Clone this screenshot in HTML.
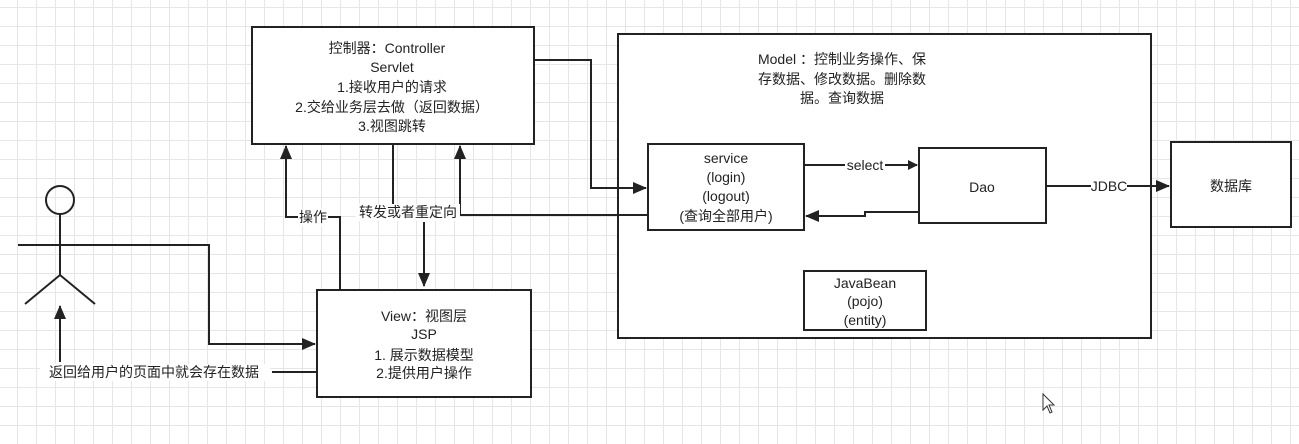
<!DOCTYPE html>
<html><head><meta charset="utf-8"><style>
html,body{margin:0;padding:0}
body{width:1299px;height:439px;overflow:hidden;background-color:#fff;
background-image:linear-gradient(#e6e6e6 1px,transparent 1px),linear-gradient(90deg,#e6e6e6 1px,transparent 1px);
background-size:19px 19px;background-position:-2px 7px;}
svg text{font-family:"Liberation Sans","Noto Sans CJK SC",sans-serif;font-size:14px;fill:#222;text-anchor:middle}
</style></head><body>
<svg width="1299" height="439" xmlns="http://www.w3.org/2000/svg">
<defs><marker id="a" markerWidth="10" markerHeight="10" refX="9" refY="5" orient="auto" markerUnits="userSpaceOnUse"><path d="M0,0 L10,5 L0,10z" fill="#222"/></marker>
<marker id="b" markerWidth="14" markerHeight="12" refX="13" refY="6" orient="auto" markerUnits="userSpaceOnUse"><path d="M0,0 L14,6 L0,12z" fill="#222"/></marker></defs>
<g fill="none" stroke="#222" stroke-width="2">
<rect x="252" y="27" width="282" height="117" fill="#fff"/>
<rect x="317" y="290" width="214" height="107" fill="#fff"/>
<rect x="618" y="34" width="533" height="304" fill="#fff"/>
<rect x="648" y="144" width="156" height="86" fill="#fff"/>
<rect x="919" y="148" width="127" height="75" fill="#fff"/>
<rect x="1171" y="142" width="120" height="85" fill="#fff"/>
<rect x="804" y="271" width="122" height="59" fill="#fff"/>
<circle cx="60" cy="200" r="14"/>
<path d="M60 214 V275 M18 245 H100 M25 304 L60 275 L95 304"/>
<path d="M100 245 H209 V344 H315" marker-end="url(#b)"/>
<path d="M60 362 V306" marker-end="url(#b)"/>
<path d="M272 372 H317"/>
<path d="M340 290 V217 H286 V146" marker-end="url(#b)"/>
<path d="M393 144 V204"/>
<path d="M424 222 V286" marker-end="url(#b)"/>
<path d="M648 215 H460 V146" marker-end="url(#b)"/>
<path d="M534 60 H591 V188 H646" marker-end="url(#b)"/>
<path d="M804 165 H917" marker-end="url(#a)"/>
<path d="M919 212 H865 V216 H806" marker-end="url(#b)"/>
<path d="M1046 186 H1169" marker-end="url(#b)"/>
</g>
<g>
<rect x="298" y="209" width="30" height="17" fill="#fff"/>
<rect x="356" y="204" width="104" height="17" fill="#fff"/>
<rect x="845" y="157" width="40" height="17" fill="#fff"/>
<rect x="1091" y="178" width="36" height="17" fill="#fff"/>
<rect x="40" y="364" width="230" height="17" fill="#fff"/>
<text x="387" y="53">控制器：Controller</text>
<text x="392" y="72">Servlet</text>
<text x="392" y="92">1.接收用户的请求</text>
<text x="392" y="112">2.交给业务层去做（返回数据）</text>
<text x="392" y="131">3.视图跳转</text>
<text x="313" y="222">操作</text>
<text x="408" y="217">转发或者重定向</text>
<text x="424" y="321">View：视图层</text>
<text x="424" y="339">JSP</text>
<text x="424" y="360">1. 展示数据模型</text>
<text x="424" y="378">2.提供用户操作</text>
<text x="154" y="377">返回给用户的页面中就会存在数据</text>
<text x="842" y="64">Model ：控制业务操作、保</text>
<text x="842" y="84">存数据、修改数据。删除数</text>
<text x="842" y="103">据。查询数据</text>
<text x="726" y="163">service</text>
<text x="726" y="182">(login)</text>
<text x="726" y="201">(logout)</text>
<text x="726" y="221">(查询全部用户)</text>
<text x="865" y="170">select</text>
<text x="982" y="192">Dao</text>
<text x="1109" y="191">JDBC</text>
<text x="1231" y="191">数据库</text>
<text x="865" y="288">JavaBean</text>
<text x="865" y="306">(pojo)</text>
<text x="865" y="325">(entity)</text>
</g>
<path d="M1043 394 V410 L1047 406 L1050 413 L1052 412 L1049 405 L1054 405z" fill="#fff" stroke="#333" stroke-width="1"/>
</svg>
</body></html>
